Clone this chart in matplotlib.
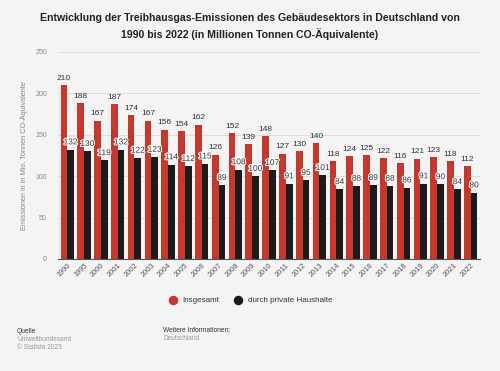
import numpy as np
import matplotlib
matplotlib.use("Agg")
import matplotlib.pyplot as plt
import matplotlib.patheffects as pe

# Daten
jahre = ['1990', '1995', '2000', '2001', '2002', '2003', '2004', '2005', '2006', '2007',
         '2008', '2009', '2010', '2011', '2012', '2013', '2014', '2015', '2016', '2017',
         '2018', '2019', '2020', '2021', '2022']
insgesamt = [210, 188, 167, 187, 174, 167, 156, 154, 162, 126, 152, 139, 148, 127, 130,
             140, 118, 124, 125, 122, 116, 121, 123, 118, 112]
privat = [132, 130, 119, 132, 122, 123, 114, 112, 115, 89, 108, 100, 107, 91, 95,
          101, 84, 88, 89, 88, 86, 91, 90, 84, 80]

rot = '#c9372c'
schwarz = '#1b1b1b'
hg = '#f4f4f4'

plt.rcParams['font.family'] = ['Liberation Sans', 'DejaVu Sans']

fig = plt.figure(figsize=(5, 3.71), dpi=100, facecolor=hg)
ax = fig.add_axes([0.116, 0.302, 0.844, 0.558], facecolor=hg)

x = np.arange(len(jahre))
w = 0.4
ax.bar(x - w / 2, insgesamt, w, color=rot, zorder=2)
ax.bar(x + w / 2, privat, w, color=schwarz, zorder=2)

halo = [pe.withStroke(linewidth=1.5, foreground='white')]
for i in range(len(jahre)):
    ax.text(x[i] - w / 2, insgesamt[i] + 4, str(insgesamt[i]), ha='center', va='bottom',
            fontsize=6, color='#333333', zorder=3)
    ax.text(x[i] + w / 2, privat[i] + 4, str(privat[i]), ha='center', va='bottom',
            fontsize=6, color='#333333', path_effects=halo, zorder=3)

ax.set_ylim(0, 250)
ax.set_xlim(-0.55, len(jahre) - 0.45)
ax.set_yticks([0, 50, 100, 150, 200, 250])
ax.grid(axis='y', color='#dcdcdc', linewidth=0.6, zorder=0)
ax.set_xticks(x)
ax.set_xticklabels(jahre, rotation=45, ha='right', rotation_mode='anchor', fontsize=5.3, color='#555555')
ax.tick_params(axis='y', labelsize=5, colors='#888888', length=0, pad=8)
ax.tick_params(axis='x', length=0, pad=2)
for s in ['top', 'right', 'left']:
    ax.spines[s].set_visible(False)
ax.spines['bottom'].set_color('#555555')
ax.spines['bottom'].set_linewidth(0.8)
ax.set_ylabel('Emissionen in in Mio. Tonnen CO-Äquivalente', fontsize=5.3, color='#888888', labelpad=5)

fig.text(0.5, 0.965, 'Entwicklung der Treibhausgas-Emissionen des Gebäudesektors in Deutschland von\n'
         '1990 bis 2022 (in Millionen Tonnen CO-Äquivalente)',
         ha='center', va='top', fontsize=7.6, fontweight='bold', color='#222222', linespacing=1.5)

# Legende
h1 = ax.scatter([], [], s=34, color=rot)
h2 = ax.scatter([], [], s=34, color=schwarz)
fig.legend([h1, h2], ['Insgesamt', 'durch private Haushalte'], loc='center',
           bbox_to_anchor=(0.497, 0.19), ncol=2, frameon=False, fontsize=5.8,
           handletextpad=0.2, columnspacing=1.3, labelcolor='#333333')

# Fußzeile
fig.text(0.034, 0.103, 'Quelle', fontsize=4.8, color='#333333')
fig.text(0.034, 0.081, 'Umweltbundesamt', fontsize=4.7, color='#999999')
fig.text(0.034, 0.059, '© Statista 2023', fontsize=4.7, color='#999999')
fig.text(0.326, 0.106, 'Weitere Informationen:', fontsize=4.8, color='#333333')
fig.text(0.326, 0.084, 'Deutschland', fontsize=4.7, color='#999999')

fig.savefig('out.png', dpi=100, facecolor=hg)
